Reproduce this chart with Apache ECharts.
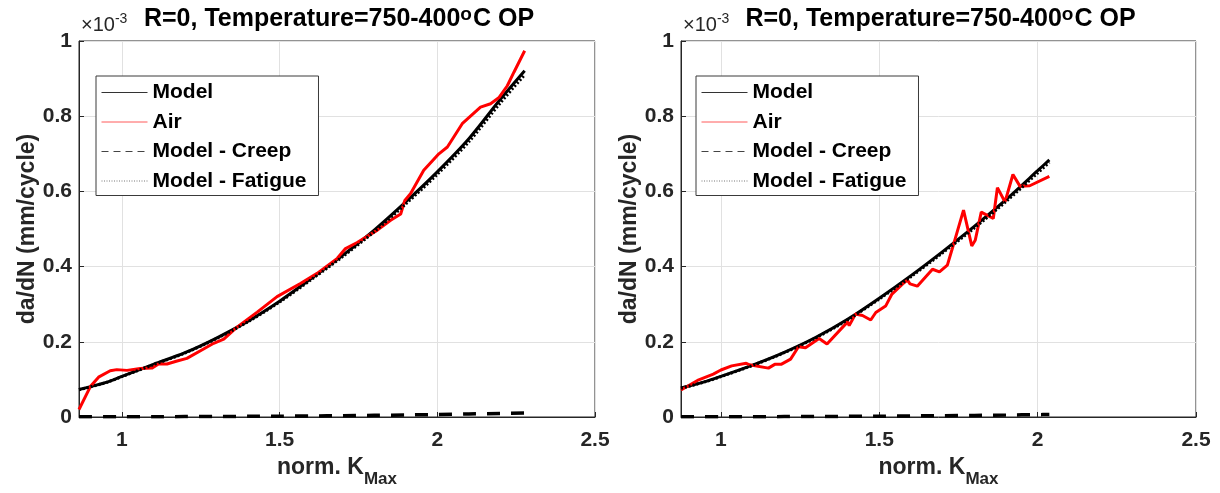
<!DOCTYPE html>
<html><head><meta charset="utf-8">
<script src="https://cdn.jsdelivr.net/npm/echarts@6/dist/echarts.min.js"></script>
<style>html,body{margin:0;padding:0;background:#fff}#c{width:1220px;height:493px}</style>
</head><body><div id="c"></div><script>
// ---------- data (da/dN in units of 1e-3 mm/cycle) ----------
const xTickValues = [1, 1.5, 2, 2.5];
const seriesNames = ['Model', 'Air', 'Model - Creep', 'Model - Fatigue'];

// Left panel
const leftModelK   = [0.864, 0.95, 1.0, 1.1, 1.2, 1.3, 1.4, 1.5, 1.6, 1.7, 1.8, 1.9, 2.0, 2.1, 2.2, 2.277];
const leftModel    = [0.073, 0.092, 0.108, 0.140, 0.171, 0.210, 0.255, 0.308, 0.368, 0.430, 0.497, 0.572, 0.652, 0.740, 0.845, 0.921];
const leftCreep    = [0.0004, 0.0005, 0.0006, 0.0008, 0.0010, 0.0013, 0.0017, 0.0022, 0.0028, 0.0035, 0.0044, 0.0054, 0.0066, 0.0080, 0.0096, 0.0110];
const leftFatigue  = [0.0726, 0.0915, 0.1074, 0.1392, 0.1700, 0.2087, 0.2533, 0.3058, 0.3652, 0.4265, 0.4926, 0.5666, 0.6454, 0.7320, 0.8354, 0.9100];
const leftAirK = [0.864, 0.9, 0.926, 0.963, 0.984, 1.016, 1.058, 1.095, 1.116, 1.143, 1.175, 1.206, 1.259, 1.291, 1.323, 1.365, 1.429, 1.492, 1.566, 1.619, 1.683, 1.709, 1.746, 1.81, 1.852, 1.884, 1.897, 1.915, 1.957, 2.005, 2.032, 2.079, 2.137, 2.169, 2.196, 2.222, 2.243, 2.277];
const leftAir  = [0.020, 0.081, 0.106, 0.123, 0.126, 0.124, 0.129, 0.130, 0.141, 0.141, 0.149, 0.156, 0.181, 0.196, 0.207, 0.239, 0.279, 0.320, 0.355, 0.382, 0.422, 0.448, 0.464, 0.497, 0.523, 0.540, 0.576, 0.594, 0.656, 0.700, 0.718, 0.780, 0.824, 0.833, 0.850, 0.881, 0.917, 0.974];

// Right panel
const rightModelK  = [0.874, 0.95, 1.0, 1.1, 1.2, 1.3, 1.4, 1.5, 1.6, 1.7, 1.8, 1.9, 2.0, 2.037];
const rightModel   = [0.077, 0.094, 0.108, 0.138, 0.172, 0.212, 0.260, 0.316, 0.376, 0.440, 0.507, 0.578, 0.655, 0.684];
const rightCreep   = [0.0004, 0.0005, 0.0006, 0.0008, 0.0010, 0.0013, 0.0017, 0.0022, 0.0028, 0.0035, 0.0043, 0.0052, 0.0062, 0.0066];
const rightFatigue = [0.0766, 0.0935, 0.1074, 0.1372, 0.1710, 0.2107, 0.2583, 0.3138, 0.3732, 0.4365, 0.5027, 0.5728, 0.6488, 0.6774];
const rightAirK = [0.874, 0.93, 0.976, 1.0, 1.034, 1.08, 1.09, 1.15, 1.17, 1.19, 1.22, 1.245, 1.267, 1.31, 1.335, 1.40, 1.405, 1.425, 1.447, 1.473, 1.489, 1.52, 1.54, 1.574, 1.589, 1.597, 1.62, 1.668, 1.69, 1.715, 1.732, 1.766, 1.792, 1.803, 1.822, 1.86, 1.873, 1.897, 1.922, 1.944, 1.975, 2.037];
const rightAir  = [0.072, 0.099, 0.114, 0.125, 0.136, 0.143, 0.139, 0.130, 0.140, 0.140, 0.154, 0.187, 0.184, 0.209, 0.194, 0.253, 0.243, 0.274, 0.270, 0.258, 0.278, 0.295, 0.327, 0.354, 0.364, 0.354, 0.348, 0.393, 0.386, 0.404, 0.452, 0.550, 0.455, 0.470, 0.545, 0.528, 0.610, 0.572, 0.645, 0.614, 0.615, 0.640];

// ---------- chart ----------
const pairs = (xs, ys) => xs.map((x, i) => [x, ys[i]]);
const FONT = '"Liberation Sans", Arial, Helvetica, sans-serif';
const AX = '#262626';

const panels = [
  {left: 79, width: 516, xmin: 0.864, mk: leftModelK, m: leftModel, c: leftCreep, f: leftFatigue, ak: leftAirK, a: leftAir, legLeft: 96},
  {left: 681, width: 515, xmin: 0.874, mk: rightModelK, m: rightModel, c: rightCreep, f: rightFatigue, ak: rightAirK, a: rightAir, legLeft: 696}
];

const grid = [], xAxis = [], yAxis = [], series = [], legend = [], title = [];
panels.forEach((p, i) => {
  grid.push({left: p.left, top: 41, width: p.width, height: 376, show: true, borderColor: AX, borderWidth: 1, backgroundColor: 'transparent'});
  xAxis.push({
    type: 'value', gridIndex: i, min: p.xmin, max: 2.5,
    name: 'norm. K{sub|Max}', nameLocation: 'middle', nameGap: 33,
    nameTextStyle: {fontFamily: FONT, fontWeight: 'bold', fontSize: 23, color: AX, verticalAlign: 'top', lineHeight: 24,
      rich: {sub: {fontFamily: FONT, fontWeight: 'bold', fontSize: 17, color: AX, verticalAlign: 'top', lineHeight: 16, padding: [15, 0, 0, 0]}}},
    axisLine: {show: true, onZero: false, lineStyle: {color: AX, width: 1}},
    axisTick: {show: true, inside: true, length: 5, customValues: xTickValues, lineStyle: {color: AX}},
    axisLabel: {customValues: xTickValues, fontFamily: FONT, fontWeight: 'bold', fontSize: 21, color: AX, margin: 13, showMinLabel: true, showMaxLabel: true},
    splitLine: {show: true, lineStyle: {color: '#e1e1e1', width: 1}}
  });
  yAxis.push({
    type: 'value', gridIndex: i, min: 0, max: 1, interval: 0.2,
    name: 'da/dN (mm/cycle)', nameLocation: 'middle', nameGap: 38, nameRotate: 90,
    nameTextStyle: {fontFamily: FONT, fontWeight: 'bold', fontSize: 23, color: AX},
    axisLine: {show: true, lineStyle: {color: AX, width: 1}},
    axisTick: {show: true, inside: true, length: 5, lineStyle: {color: AX}},
    axisLabel: {fontFamily: FONT, fontWeight: 'bold', fontSize: 21, color: AX, margin: 7},
    splitLine: {show: true, lineStyle: {color: '#e1e1e1', width: 1}}
  });
  const base = {type: 'line', xAxisIndex: i, yAxisIndex: i, symbol: 'none', showSymbol: false, animation: false, silent: true};
  series.push(Object.assign({}, base, {name: 'Model', data: pairs(p.mk, p.m), smooth: 0.3, lineStyle: {color: '#000', width: 3}, itemStyle: {color: '#000'}}));
  series.push(Object.assign({}, base, {name: 'Air', data: pairs(p.ak, p.a), lineStyle: {color: '#ff0000', width: 3}, itemStyle: {color: '#ff0000'}}));
  series.push(Object.assign({}, base, {name: 'Model - Creep', data: pairs(p.mk, p.c), smooth: 0.3, lineStyle: {color: '#000', width: 3.5, type: [13, 11]}, itemStyle: {color: '#000'}}));
  series.push(Object.assign({}, base, {name: 'Model - Fatigue', data: pairs(p.mk, p.f), smooth: 0.3, lineStyle: {color: '#000', width: 3, type: [2, 2]}, itemStyle: {color: '#000'}}));

  legend.push({
    orient: 'vertical', left: p.legLeft, top: 76,
    backgroundColor: '#fff', borderColor: '#3a3a3a', borderWidth: 1, borderRadius: 0,
    padding: [6, 12, 4, 5], itemGap: 8.5, itemWidth: 46, itemHeight: 20,
    selectedMode: false,
    itemStyle: {opacity: 0},
    textStyle: {fontFamily: FONT, fontWeight: 'bold', fontSize: 21, color: '#000', lineHeight: 20},
    data: [
      {name: 'Model', lineStyle: {width: 1, color: '#333'}},
      {name: 'Air', lineStyle: {width: 1, color: '#ff5a5a'}},
      {name: 'Model - Creep', lineStyle: {width: 1, color: '#444', type: [7, 5]}},
      {name: 'Model - Fatigue', lineStyle: {width: 1, color: '#777', type: [1, 1.5]}}
    ]
  });
  title.push({
    text: 'R=0, Temperature=750-400{sup|o}C OP',
    left: p.left + p.width / 2 + 2, top: 5, textAlign: 'center', padding: 0,
    textStyle: {fontFamily: FONT, fontWeight: 'bold', fontSize: 25, color: '#000', lineHeight: 29, verticalAlign: 'bottom',
      rich: {sup: {fontFamily: FONT, fontWeight: 'bold', fontSize: 19, color: '#000', verticalAlign: 'top', lineHeight: 12, padding: [0, 1, 10, 0]}}}
  });
  title.push({
    text: '\u00d710{sup|-3}',
    left: p.left + 2, top: 12, padding: 0,
    textStyle: {fontFamily: FONT, fontWeight: 'normal', fontSize: 20, color: AX, lineHeight: 26, verticalAlign: 'bottom',
      rich: {sup: {fontFamily: FONT, fontSize: 14, color: AX, verticalAlign: 'top', lineHeight: 12}}}
  });
});

const chart = echarts.init(document.getElementById('c'), null, {renderer: 'canvas'});
chart.setOption({animation: false, backgroundColor: '#fff', title, grid, xAxis, yAxis, legend, series});
</script></body></html>
